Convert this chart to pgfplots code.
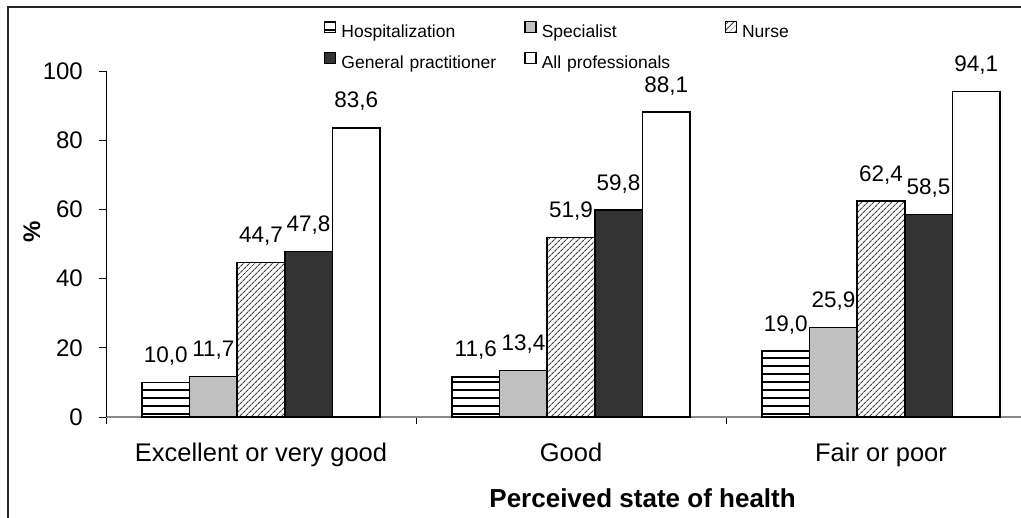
\documentclass[border=0pt]{standalone}
\usepackage{fontspec}
\setmainfont{Liberation Sans}
\usepackage{pgfplots}
\pgfplotsset{compat=1.18}
\usetikzlibrary{patterns.meta}

\definecolor{specgray}{HTML}{C0C0C0}
\definecolor{gpdark}{HTML}{333333}
\definecolor{axisgray}{HTML}{8A8A8A}

\begin{document}
\begin{tikzpicture}
\useasboundingbox (0pt,0pt) rectangle (1021pt,518pt);
\draw[black!85, line width=1.3pt] (8pt,0pt) -- (8pt,511pt) -- (1021pt,511pt);
\begin{axis}[
    at={(106pt,101pt)}, anchor=south west,
    scale only axis, width=930pt, height=346pt,
    xmin=-0.5, xmax=2.5, ymin=0, ymax=100,
    enlargelimits=false, clip=false,
    ybar=0pt, bar width=47.6pt,
    axis x line*=bottom, axis y line*=left,
    x axis line style={axisgray, line width=1.3pt},
    y axis line style={black, line width=0.8pt},
    xtick={-0.5,0.5,1.5,2.5}, xticklabels={,,,},
    extra x ticks={0,1,2},
    extra x tick labels={Excellent or very good,Good,Fair or poor},
    extra x tick style={major tick length=0pt},
    ytick={0,20,40,60,80,100},
    tick align=outside, major tick length=7pt,
    tick style={black, line width=0.8pt},
    /pgf/number format/assume math mode=true,
    yticklabel style={font=\fontsize{24}{28}\selectfont, anchor=east, inner sep=0pt, xshift=-16pt},
    xticklabel style={font=\fontsize{25.5}{30}\selectfont, anchor=base, inner sep=0pt, yshift=-45pt},
    xlabel={Perceived state of health},
    xlabel style={at={(axis description cs:0.577,-0.234)}, anchor=center, inner sep=0pt,
        font=\fontsize{26}{30}\selectfont\bfseries},
    ylabel={\%},
    ylabel style={at={(axis description cs:-0.0796,0.535)}, anchor=center, inner sep=0pt,
        font=\fontsize{24}{28}\selectfont\bfseries},
    nodes near coords={\pgfmathprintnumber[fixed,fixed zerofill,precision=1,use comma]{\pgfplotspointmeta}},
    every node near coord/.append style={font=\fontsize{22.5}{26}\selectfont, anchor=base,
        inner sep=0pt, yshift=20pt, text=black},
    legend columns=3,
    legend style={draw=none, fill=none, at={(axis description cs:0.2344,1.071)}, anchor=west,
        inner sep=0pt, font=\fontsize{17.5}{21}\selectfont,
        nodes={text width=183pt, text height=12.5pt, text depth=3.5pt, inner sep=0pt, align=left},
        row sep=11pt,
        /tikz/every odd column/.append style={column sep=5pt},
        /tikz/every even column/.append style={column sep=0pt}},
    legend image code/.code={\draw[#1, line width=1.3pt] (0pt,0.5pt) rectangle (11pt,11.5pt);},
]
\addplot[draw=black, line width=1.6pt, pattern={Lines[angle=0,distance=8pt,line width=1.8pt]}, pattern color=black]
    coordinates {(0,10.0) (1,11.6) (2,19.0)};
\addlegendentry{Hospitalization}
\addplot[draw=black, line width=1.6pt, fill=specgray]
    coordinates {(0,11.7) (1,13.4) (2,25.9)};
\addlegendentry{Specialist}
\addplot[draw=black, line width=1.6pt, pattern={Lines[angle=45,distance=4pt,line width=1.1pt]}, pattern color=black!75]
    coordinates {(0,44.7) (1,51.9) (2,62.4)};
\addlegendentry{Nurse}
\addplot[draw=black, line width=1.6pt, fill=gpdark]
    coordinates {(0,47.8) (1,59.8) (2,58.5)};
\addlegendentry{General practitioner}
\addplot[draw=black, line width=1.6pt, fill=white]
    coordinates {(0,83.6) (1,88.1) (2,94.1)};
\addlegendentry{All professionals}
\end{axis}
\end{tikzpicture}
\end{document}
